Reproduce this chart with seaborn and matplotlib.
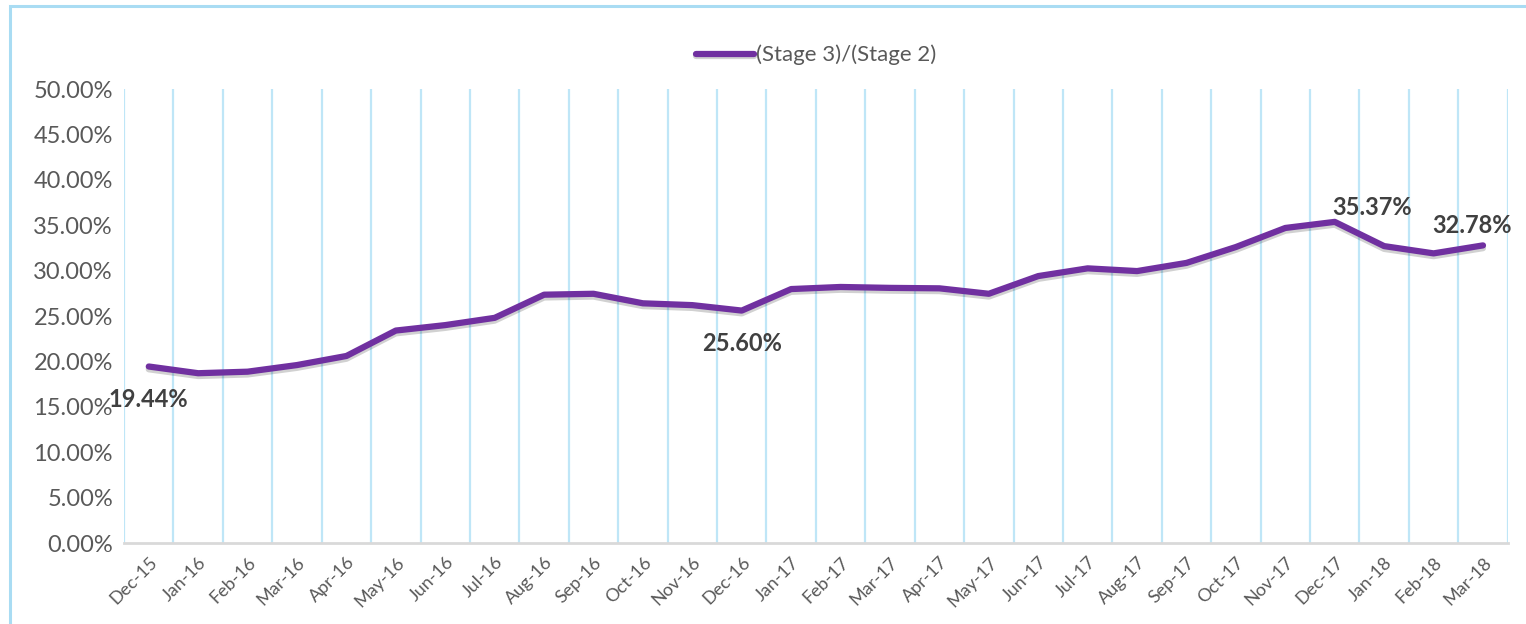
import numpy as np
import pandas as pd
import matplotlib.pyplot as plt
import matplotlib.patheffects as pe
from matplotlib.patches import Rectangle
import seaborn as sns

months = ['Dec-15', 'Jan-16', 'Feb-16', 'Mar-16', 'Apr-16', 'May-16', 'Jun-16',
          'Jul-16', 'Aug-16', 'Sep-16', 'Oct-16', 'Nov-16', 'Dec-16', 'Jan-17',
          'Feb-17', 'Mar-17', 'Apr-17', 'May-17', 'Jun-17', 'Jul-17', 'Aug-17',
          'Sep-17', 'Oct-17', 'Nov-17', 'Dec-17', 'Jan-18', 'Feb-18', 'Mar-18']
ratio = [19.44, 18.70, 18.87, 19.60, 20.60, 23.40, 24.00, 24.80, 27.35, 27.45,
         26.40, 26.20, 25.60, 27.97, 28.20, 28.10, 28.05, 27.45, 29.40, 30.25,
         29.95, 30.85, 32.60, 34.70, 35.37, 32.70, 31.90, 32.78]
labelled = ['Dec-15', 'Dec-16', 'Dec-17', 'Mar-18']

df = pd.DataFrame({'month': months, 'ratio': ratio})

sns.set_style('white')
plt.rcParams['font.family'] = ['Lato', 'DejaVu Sans']

fig = plt.figure(figsize=(15.26, 6.24), dpi=100)
ax = fig.add_axes([0.0813, 0.1298, 0.9067, 0.7275])

purple = '#7030a0'
sns.lineplot(data=df, x='month', y='ratio', sort=False, color=purple,
             linewidth=4.5, ax=ax, label='(Stage 3)/(Stage 2)',
             path_effects=[pe.SimpleLineShadow(offset=(0, -2), alpha=0.18, rho=0.4),
                           pe.Normal()])
ax.lines[0].set_solid_capstyle('round')

n = len(months)
ax.set_xlim(-0.5, n - 0.5)
ax.set_ylim(0, 50)
ax.set_yticks(np.arange(0, 51, 5))
ax.set_yticklabels([f'{v:.2f}%' for v in np.arange(0, 51, 5)], fontsize=17, color='#595959')
ax.set_xticks(range(n))
ax.set_xticklabels(months, rotation=45, ha='right', rotation_mode='anchor',
                   fontsize=13, color='#595959')
ax.set_xticks(np.arange(-0.5, n, 1), minor=True)
ax.grid(False)
ax.grid(True, which='minor', axis='x', color='#bfe6f7', linewidth=1.6)
ax.tick_params(axis='both', which='both', length=0, pad=8)
ax.set_xlabel('')
ax.set_ylabel('')
for s in ['top', 'right', 'left']:
    ax.spines[s].set_visible(False)
ax.spines['bottom'].set_color('#d9d9d9')
ax.spines['bottom'].set_linewidth(2)

offsets = {'Dec-15': (0, -24), 'Dec-16': (0, -24), 'Dec-17': (27, 10), 'Mar-18': (-8, 14)}
for m in labelled:
    i = months.index(m)
    ax.annotate(f'{ratio[i]:.2f}%', (i, ratio[i]), xytext=offsets[m],
                textcoords='offset points', ha='center', va='center',
                fontsize=17, fontweight='bold', color='#404040')

leg = ax.legend(loc='center', bbox_to_anchor=(0.5, 1.075), frameon=False,
                fontsize=16, handlelength=2.6, handletextpad=0.1)
for t in leg.get_texts():
    t.set_color('#595959')
for h in leg.get_lines():
    h.set_solid_capstyle('round')

fig.patches.append(Rectangle((0.0066, -0.1), 1.2, 1.0904, transform=fig.transFigure,
                             fill=False, edgecolor='#a9dcf3', linewidth=2.2))

fig.savefig('out.png', dpi=100)
